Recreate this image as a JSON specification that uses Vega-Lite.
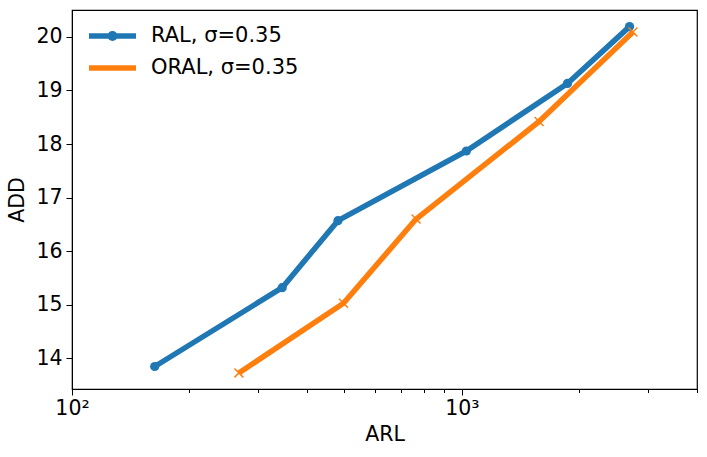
{
  "$schema": "https://vega.github.io/schema/vega-lite/v6.json",
  "width": 625,
  "height": 379,
  "autosize": {"type": "none"},
  "padding": {"left": 72, "top": 10, "right": 10, "bottom": 68},
  "background": "white",
  "config": {
    "font": "DejaVu Sans",
    "view": {"stroke": "black", "strokeWidth": 1.2},
    "axis": {"domainColor": "black", "tickColor": "black", "labelColor": "black", "titleColor": "black", "grid": false, "labelFontSize": 20.5, "titleFontSize": 20.5, "titleFontWeight": "normal", "labelFont": "DejaVu Sans", "titleFont": "DejaVu Sans"}
  },
  "data": {"values": [
    {"series": "RAL, σ=0.35", "ARL": 163, "ADD": 13.85},
    {"series": "RAL, σ=0.35", "ARL": 346, "ADD": 15.32},
    {"series": "RAL, σ=0.35", "ARL": 481, "ADD": 16.57},
    {"series": "RAL, σ=0.35", "ARL": 1027, "ADD": 17.87},
    {"series": "RAL, σ=0.35", "ARL": 1866, "ADD": 19.13},
    {"series": "RAL, σ=0.35", "ARL": 2692, "ADD": 20.19},
    {"series": "ORAL, σ=0.35", "ARL": 268, "ADD": 13.73},
    {"series": "ORAL, σ=0.35", "ARL": 497, "ADD": 15.03},
    {"series": "ORAL, σ=0.35", "ARL": 763, "ADD": 16.6},
    {"series": "ORAL, σ=0.35", "ARL": 1578, "ADD": 18.42},
    {"series": "ORAL, σ=0.35", "ARL": 2747, "ADD": 20.09}
  ]},
  "encoding": {
    "x": {"field": "ARL", "type": "quantitative",
      "scale": {"type": "log", "domain": [100, 4010], "nice": false},
      "axis": {"title": "ARL", "values": [100, 200, 300, 400, 500, 600, 700, 800, 900, 1000, 2000, 3000, 4000],
        "labelExpr": "datum.value == 100 ? '10²' : (datum.value == 1000 ? '10³' : '')",
        "tickSize": {"condition": {"test": "datum.value == 100 || datum.value == 1000", "value": 6}, "value": 3.5},
        "labelPadding": 3, "titlePadding": 6, "labelFlush": false, "labelOverlap": false}},
    "y": {"field": "ADD", "type": "quantitative",
      "scale": {"domain": [13.43, 20.5], "nice": false, "zero": false},
      "axis": {"title": "ADD", "values": [14, 15, 16, 17, 18, 19, 20], "tickSize": 6, "labelPadding": 4, "titlePadding": 8}}
  },
  "layer": [
    {
      "mark": {"type": "line", "strokeWidth": 5.5, "strokeCap": "butt", "strokeJoin": "round"},
      "encoding": {
        "stroke": {"field": "series", "type": "nominal",
          "scale": {"domain": ["RAL, σ=0.35", "ORAL, σ=0.35"], "range": ["#1f77b4", "#ff7f0e"]},
          "legend": {"title": null, "orient": "none", "legendX": 14, "legendY": 10, "padding": 0,
            "symbolSize": 2209, "symbolStrokeWidth": 5.5, "symbolType": "M-1,0L1,0",
            "labelFontSize": 21, "labelColor": "black", "labelOffset": 12, "rowPadding": 0, "clipHeight": 32,
            "encode": {"symbols": {"update": {"shape": {"signal": "datum.index == 0 ? 'M-1,0L1,0M0.1,0A0.1,0.1 0 1,1 -0.1,0A0.1,0.1 0 1,1 0.1,0' : 'M-1,0L1,0'"}}}}}}
      }
    },
    {
      "transform": [{"filter": "datum.series == 'RAL, σ=0.35'"}],
      "mark": {"type": "point", "shape": "circle", "filled": true, "size": 85, "color": "#1f77b4", "opacity": 1}
    },
    {
      "transform": [{"filter": "datum.series == 'ORAL, σ=0.35'"}],
      "mark": {"type": "point", "shape": "M-1,-1L1,1M-1,1L1,-1", "filled": false, "size": 80, "color": "#ff7f0e", "strokeWidth": 1.5, "opacity": 1}
    }
  ]
}
